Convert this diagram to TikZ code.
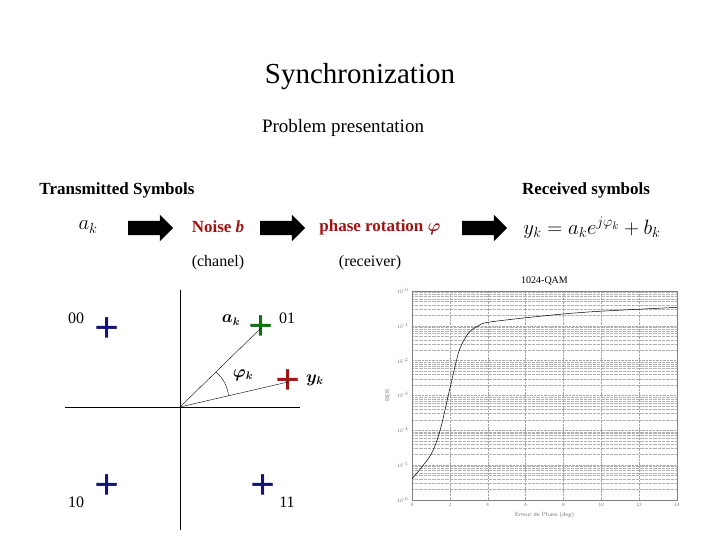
\documentclass[tikz,border=0pt]{standalone}
\usepackage{amsmath}
\usepackage{fontspec}
\setmainfont{Liberation Serif}
\usetikzlibrary{shapes.arrows}
\definecolor{dred}{RGB}{160,20,20}
\definecolor{navy}{RGB}{20,20,120}
\definecolor{dgreen}{RGB}{20,110,20}
\begin{document}
\begin{tikzpicture}[x=1pt,y=-1pt,
  barrow/.style={single arrow,fill=black,minimum width=26pt,single arrow head extend=6pt,minimum height=45pt,inner sep=7pt,single arrow head indent=0pt},
  lbl/.style={font=\fontsize{16}{18}\selectfont},
  blbl/.style={font=\bfseries\fontsize{17}{19}\selectfont},
  plus/.style={font=\bfseries\fontsize{44}{44}\selectfont,inner sep=0pt},
  tick/.style={font=\fontsize{5}{5}\sffamily,text=gray}]
\useasboundingbox (0,0) rectangle (720,540);
\node[font=\fontsize{29}{32}\selectfont] (title) at (360,77) {Synchronization};
\node[font=\fontsize{19}{22}\selectfont] (sub) at (343,128) {Problem presentation};
\node[blbl] (tx) at (117,190) {Transmitted Symbols};
\node[blbl] (rx) at (586,190) {Received symbols};
\node[font=\fontsize{21}{22}\selectfont] (ak) at (88,227) {$a_k$};
\node[barrow] (a1) at (147,228) {};
\node[blbl,text=dred] (nb) at (218,227) {Noise \textit{b}};
\node[barrow] (a2) at (279,228) {};
\node[blbl,text=dred] (pr) at (380,227) {phase rotation $\boldsymbol{\varphi}$};
\node[barrow] (a3) at (481,228) {};
\node[font=\fontsize{21}{22}\selectfont] (yk) at (592,228) {$y_k = a_k e^{j\varphi_k}+b_k$};
\node[lbl] (ch) at (218,263) {(chanel)};
\node[lbl] (rc) at (370,263) {(receiver)};
% constellation
\coordinate (o) at (180,407);
\draw (65,407) -- (300,407);
\draw (180,290) -- (180,530);
\node[plus,text=navy] (p00) at (107,330) {+};
\node[plus,text=dgreen] (p01) at (261,328) {+};
\node[plus,text=dred] (py) at (288,382) {+};
\node[plus,text=navy] (p10) at (107,487) {+};
\node[plus,text=navy] (p11) at (263,487) {+};
\draw (o) -- (p01.center);
\draw (o) -- (py.center);
\draw (228.6,395.7) .. controls (227,385) and (223,378) .. (215.8,372);
\node[lbl] (l00) at (76,318) {00};
\node[lbl] (l01) at (287,318) {01};
\node[lbl] (l10) at (76,502) {10};
\node[lbl] (l11) at (287,502) {11};
\node[lbl] (lak) at (231,320) {$\boldsymbol{a_k}$};
\node[lbl] (lphi) at (243,375) {$\boldsymbol{\varphi_k}$};
\node[lbl] (lyk) at (315,380) {$\boldsymbol{y_k}$};
% plot
\begin{scope}[shift={(412,291)},x=18.93pt,y=34.8pt]
\foreach \d in {-6,...,-1}{\foreach \m in {2,...,9}{\draw[gray!60,densely dotted,line width=0.3pt] (0,{\d+log10(\m)}) -- (14,{\d+log10(\m)});}}
\foreach \d in {-5,...,-1}{\draw[gray!70,densely dotted,line width=0.4pt] (0,\d) -- (14,\d);}
\foreach \xx in {2,4,...,12}{\draw[gray!70,densely dotted,line width=0.4pt] (\xx,-6) -- (\xx,0);}
\draw[gray,line width=0.5pt] (0,-6) rectangle (14,0);
\foreach \xx in {0,2,...,14}{\node[tick,below] at (\xx,-6) {\xx};}
\foreach \d in {0,...,6}{\node[tick,left] at (0,-\d) {10$^{\text{-}\d}$};}
\node[tick,font=\fontsize{6}{6}\sffamily] at (7,-6.45) {Erreur de Phase (deg)};
\node[tick,font=\fontsize{6}{6}\sffamily,rotate=90] at (-1.3,-3) {BER};
\node[font=\fontsize{10}{10}\selectfont] at (7,0.3) {1024-QAM};
\draw[line width=0.5pt] plot[smooth] coordinates {(0,-5.4) (1,-4.7) (1.5,-3.97) (2,-2.8) (2.5,-1.7) (3,-1.2) (3.5,-1.0) (4,-0.9) (6,-0.77) (8,-0.66) (10,-0.58) (14,-0.47)};
\end{scope}
\end{tikzpicture}
\end{document}
